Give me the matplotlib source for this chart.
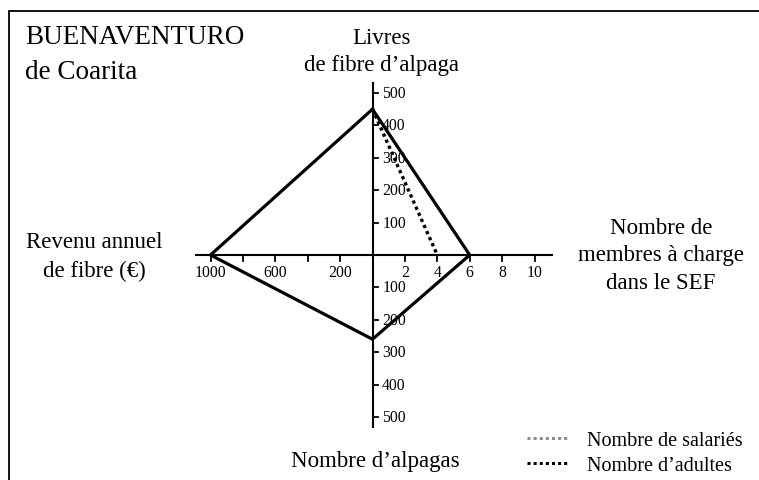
import matplotlib
matplotlib.use("Agg")
import matplotlib.pyplot as plt
from matplotlib.lines import Line2D
from matplotlib.patches import Rectangle

plt.rcParams['font.family'] = ['Liberation Serif', 'DejaVu Serif']

# values on the four axes (top, right, bottom, left)
livres = 450      # Livres de fibre d'alpaga
membres = 6       # Nombre de membres a charge dans le SEF
alpagas = 260     # Nombre d'alpagas
revenu = 1000     # Revenu annuel de fibre (EUR)

# dotted line: Nombre d'adultes
adultes_livres = 450
adultes_membres = 4

livres_ticks = [100, 200, 300, 400, 500]
alpagas_ticks = [100, 200, 300, 400, 500]
membres_ticks = [2, 4, 6, 8, 10]
revenu_ticks = [200, 400, 600, 800, 1000]
revenu_labels = ['200', '', '600', '', '1000']

# axis extents
livres_max, alpagas_max, membres_max, revenu_max = 530, 530, 11.1, 1090

# how many units of each axis make one drawing unit
s_liv, s_mem, s_alp, s_rev = 100, 2, 100, 200

W, H = 759, 481
px = 32.4  # pixels per drawing unit
cx, cy = 372.5, 256  # centre in pixels from top-left

fig = plt.figure(figsize=(W / 100, H / 100), dpi=100)
ax = fig.add_axes([0, 0, 1, 1])
ax.set_xlim(-cx / px, (W - cx) / px)
ax.set_ylim(-(H - cy) / px, cy / px)
ax.axis('off')

# frame (only top and left edges are visible)
fig.patches.append(Rectangle((8.5 / W, -0.05), 1.2, 1.05 - 11.5 / H,
                             transform=fig.transFigure, fill=False,
                             lw=1.3, ec='black'))

axlw = 1.5
ax.plot([0, 0], [-alpagas_max / s_alp, livres_max / s_liv], color='black', lw=axlw)
ax.plot([-revenu_max / s_rev, membres_max / s_mem], [0, 0], color='black', lw=axlw)

tl = 0.17
fs_tick = 11.3
for v in livres_ticks:
    ax.plot([0, tl], [v / s_liv, v / s_liv], color='black', lw=1.3)
    ax.text(0.3, v / s_liv, str(v), fontsize=fs_tick, va='center', ha='left')
for v in alpagas_ticks:
    ax.plot([0, tl], [-v / s_alp, -v / s_alp], color='black', lw=1.3)
    ax.text(0.3, -v / s_alp, str(v), fontsize=fs_tick, va='center', ha='left')
for v in membres_ticks:
    ax.plot([v / s_mem, v / s_mem], [0, -tl], color='black', lw=1.3)
    ax.text(v / s_mem, -0.52, str(v), fontsize=fs_tick, va='center', ha='center')
for v, lab in zip(revenu_ticks, revenu_labels):
    ax.plot([-v / s_rev, -v / s_rev], [0, -tl], color='black', lw=1.3)
    ax.text(-v / s_rev, -0.52, lab, fontsize=fs_tick, va='center', ha='center')

# diamond
xs = [0, membres / s_mem, 0, -revenu / s_rev, 0]
ys = [livres / s_liv, 0, -alpagas / s_alp, 0, livres / s_liv]
ax.plot(xs, ys, color='black', lw=2.3, solid_joinstyle='miter', zorder=5)

# adults
ax.plot([0, adultes_membres / s_mem], [adultes_livres / s_liv, 0],
        color='black', lw=2.4, ls=(0, (1, 1)), zorder=4)

fs_lab = 16.5
ax.text(0.28, (cy - 52) / px, "Livres\nde fibre d\u2019alpaga", fontsize=fs_lab,
        ha='center', va='center', linespacing=1.4)
ax.text((661 - cx) / px, 0, "Nombre de\nmembres \u00e0 charge\ndans le SEF",
        fontsize=fs_lab, ha='center', va='center', linespacing=1.38)
ax.text((94 - cx) / px, -1 / px, "Revenu annuel\nde fibre (\u20ac)", fontsize=fs_lab,
        ha='center', va='center', linespacing=1.5)
ax.text(0.1, -(462 - cy) / px, "Nombre d\u2019alpagas", fontsize=fs_lab,
        ha='center', va='center')

fig.text(25 / W, 1 - 38 / H, "BUENAVENTURO", fontsize=19.5, ha='left', va='center')
fig.text(25 / W, 1 - 73 / H, "de Coarita", fontsize=19.5, ha='left', va='center')

handles = [Line2D([], [], color='#8c8c8c', lw=2.2, ls=(0, (1, 1))),
           Line2D([], [], color='black', lw=2.2, ls=(0, (1, 1)))]
fig.legend(handles, ["Nombre de salari\u00e9s", "Nombre d\u2019adultes"],
           loc='upper left', bbox_to_anchor=(527 / W, 1 - 432 / H),
           frameon=False, fontsize=14.5, borderpad=0, borderaxespad=0,
           handlelength=2.05, handletextpad=0.95, labelspacing=0.3)

fig.savefig('out.png', dpi=100)
